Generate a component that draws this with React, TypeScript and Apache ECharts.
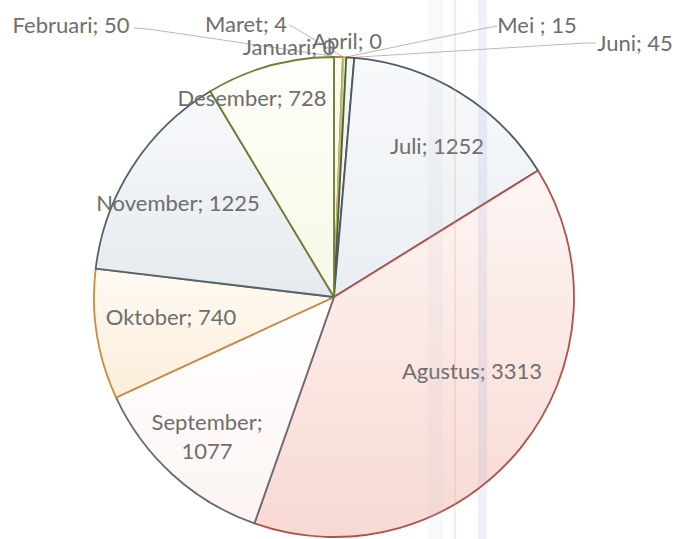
import React, { useEffect, useRef } from "react";
import * as echarts from "echarts";

const months = ["Januari", "Februari", "Maret", "April", "Mei ", "Juni", "Juli", "Agustus", "September", "Oktober", "November", "Desember"];
const values = [0, 50, 4, 0, 15, 45, 1252, 3313, 1077, 740, 1225, 728];
const borderColors = ["#a07040", "#b07a40", "#a8a848", "#9aaa50", "#b8c66a", "#4f5a40", "#4d5966", "#b4504a", "#6b6b75", "#cf8a3c", "#55626a", "#6f7d35"];
const fillTop = ["#fefaf2", "#fefaf2", "#fcfcee", "#fcfcee", "#f8faec", "#f6f8f2", "#f8f9fb", "#fdf5f3", "#ffffff", "#fffaf3", "#f8f9fb", "#fefefa"];
const fillBottom = ["#faf0e0", "#faf0e0", "#f4f4d8", "#f4f4d8", "#eef4d6", "#eaede4", "#eaeef3", "#f8d9d3", "#fcf4f3", "#fbedda", "#e5eaef", "#f8f8e6"];
const withLeader = [false, true, true, false, true, true, false, false, false, false, false, false];

// layout of the labels (label centres) and leader-line attachment points
const labelPos: number[][] = [[289, 46], [71, 24], [246, 23], [347, 40], [537, 24], [635, 42], [437, 145], [472, 370], [207, 436], [171, 316], [178, 202], [252, 97]];
const leaderEnd: Record<number, number[][]> = {
  1: [[148, 29], [134, 28]],
  2: [[295, 28], [289, 25]],
  4: [[486, 28], [497, 26]],
  5: [[585, 43], [596, 43]],
};
const CX = 334, CY = 297, R = 240;

export default function App() {
  const ref = useRef<HTMLDivElement>(null);
  useEffect(() => {
    if (!ref.current) return;
    const chart = echarts.init(ref.current, null, { renderer: "svg" });
    const total = values.reduce((a, b) => a + b, 0);
    const midAngles: number[] = [];
    let acc = 0;
    values.forEach((v) => {
      midAngles.push(((acc + v / 2) / total) * 2 * Math.PI);
      acc += v;
    });
    const data = months.map((m, i) => ({
      name: m,
      value: values[i],
      itemStyle: {
        borderColor: borderColors[i],
        color: new echarts.graphic.LinearGradient(0, 0, 0, 1, [
          { offset: 0, color: fillTop[i] },
          { offset: 1, color: fillBottom[i] },
        ]),
      },
      labelLine: { show: withLeader[i] },
    }));
    chart.setOption({
      animation: false,
      backgroundColor: "#ffffff",
      series: [
        {
          type: "pie",
          center: [CX, CY],
          radius: R,
          startAngle: 90,
          clockwise: true,
          avoidLabelOverlap: false,
          silent: true,
          itemStyle: { borderWidth: 1.8 },
          label: {
            show: true,
            position: "outside",
            color: "#6e6e6e",
            fontFamily: "Lato",
            fontSize: 22,
            lineHeight: 29,
            formatter: (p: any) =>
              p.name === "September" ? `${p.name};\n${p.value}` : `${p.name}; ${p.value}`,
          },
          labelLine: {
            show: false,
            lineStyle: { color: "#c9b3b3", width: 1 },
          },
          labelLayout: (params: any) => {
            const i = params.dataIndex;
            const pos = labelPos[i];
            const out: any = { x: pos[0], y: pos[1], align: "center", verticalAlign: "middle" };
            if (leaderEnd[i]) {
              const a = midAngles[i];
              const start = [CX + R * Math.sin(a), CY - R * Math.cos(a)];
              out.labelLinePoints = [start, leaderEnd[i][0], leaderEnd[i][1]];
            }
            return out;
          },
          data,
        },
      ],
      graphic: [
        { type: "rect", z: 100, shape: { x: 428, y: 0, width: 15, height: 539 }, style: { fill: "rgba(175,185,215,0.09)" } },
        { type: "line", z: 100, shape: { x1: 455, y1: 0, x2: 455, y2: 539 }, style: { stroke: "rgba(235,160,110,0.45)", lineWidth: 1 } },
        { type: "rect", z: 100, shape: { x: 478, y: 0, width: 9, height: 539 }, style: { fill: "rgba(140,155,205,0.14)" } },
      ],
    });
    return () => chart.dispose();
  }, []);
  return <div ref={ref} style={{ position: "fixed", left: 0, top: 0, width: 676, height: 539 }} />;
}
